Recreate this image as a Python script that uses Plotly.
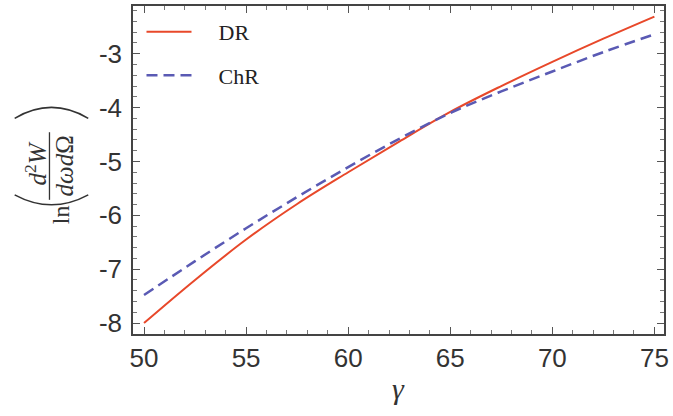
import plotly.graph_objects as go

# ---- data ----
gamma = [50, 52.5, 55, 57.5, 60, 62.5, 65, 67.5, 70, 72.5, 75]
dr_vals = [-8.00, -7.20, -6.45, -5.79, -5.20, -4.63, -4.08, -3.60, -3.15, -2.72, -2.31]
chr_vals = [-7.48, -6.85, -6.24, -5.66, -5.105, -4.58, -4.10, -3.70, -3.33, -2.97, -2.64]
series_names = ["DR", "ChR"]
x_ticks = [50, 55, 60, 65, 70, 75]
y_ticks = [-8, -7, -6, -5, -4, -3]

W, H = 673, 416
ML, MR, MT, MB = 133, 6, 4, 82
PW, PH = W - ML - MR, H - MT - MB


def px(x):
    return (x - ML) / PW


def py(y):
    return (H - MB - y) / PH


pad = "\u2002\u2002"
fig = go.Figure()
fig.add_trace(go.Scatter(x=gamma, y=dr_vals, mode="lines", name=pad + series_names[0],
                         line=dict(color="#E8482A", width=2, shape="spline"),
                         legendgroup="a"))
fig.add_trace(go.Scatter(x=gamma, y=chr_vals, mode="lines", name=pad + series_names[1],
                         line=dict(color="#5A5AB4", width=2.5, dash="11px,6px", shape="spline"),
                         legendgroup="b"))

axis_common = dict(showline=True, linecolor="#444", linewidth=1.6, mirror="ticks",
                   ticks="inside", ticklen=7, tickwidth=1, tickcolor="#555",
                   showgrid=False, zeroline=False,
                   tickfont=dict(family="Liberation Sans, Arial", size=26, color="#333"))

fig.update_xaxes(range=[49.46, 75.47], tickvals=x_ticks,
                 minor=dict(dtick=1, ticks="inside", ticklen=4, tickcolor="#777", showgrid=False),
                 ticklabelstandoff=0,
                 **axis_common)
fig.update_yaxes(range=[-8.203, -2.114], tickvals=y_ticks,
                 ticktext=[str(v) for v in y_ticks],
                 minor=dict(dtick=0.2, ticks="inside", ticklen=4, tickcolor="#777", showgrid=False),
                 ticklabelstandoff=4,
                 **axis_common)

serif = "Liberation Serif, Times New Roman, serif"
ann = []
# x-axis title
ann.append(dict(text="<i>γ</i>", x=px(400), y=py(389), xref="paper", yref="paper",
                showarrow=False, xanchor="center", yanchor="middle",
                font=dict(family=serif, size=30, color="#333")))
# y-axis title pieces (rotated)
ann.append(dict(text="ln", x=px(60), y=py(214), xref="paper", yref="paper",
                showarrow=False, textangle=-90, xanchor="center", yanchor="middle",
                font=dict(family=serif, size=24, color="#333")))
ann.append(dict(text="<i>d</i><sup>2</sup><i>W</i>", x=px(35), y=py(163), xref="paper", yref="paper",
                showarrow=False, textangle=-90, xanchor="center", yanchor="middle",
                font=dict(family=serif, size=25, color="#333")))
ann.append(dict(text="<i>dωd</i>Ω", x=px(64), y=py(165), xref="paper", yref="paper",
                showarrow=False, textangle=-90, xanchor="center", yanchor="middle",
                font=dict(family=serif, size=25, color="#333")))

shapes = []
shapes.append(dict(type="line", xref="paper", yref="paper",
                   x0=px(49), x1=px(49), y0=py(131), y1=py(199),
                   line=dict(color="#333", width=1.3)))
top_paren = "M {a},{b} Q {c},{d} {e},{f}".format(a=px(14), b=py(117), c=px(51), d=py(95), e=px(88), f=py(117))
bot_paren = "M {a},{b} Q {c},{d} {e},{f}".format(a=px(14), b=py(194), c=px(51), d=py(214), e=px(88), f=py(194))
for p in (top_paren, bot_paren):
    shapes.append(dict(type="path", xref="paper", yref="paper", path=p,
                       line=dict(color="#333", width=1.5)))

fig.update_layout(
    width=W, height=H,
    margin=dict(l=ML, r=MR, t=MT, b=MB),
    paper_bgcolor="white", plot_bgcolor="white",
    showlegend=True,
    legend=dict(x=0.016, y=0.985, xanchor="left", yanchor="top",
                bgcolor="rgba(0,0,0,0)", borderwidth=0,
                font=dict(family=serif, size=22, color="#222"),
                tracegroupgap=12, itemwidth=45, traceorder="grouped"),
    annotations=ann, shapes=shapes,
)

fig.write_html("out.html", config={"displayModeBar": False},
               post_script="document.body.style.margin='0';document.body.style.overflow='hidden';")
